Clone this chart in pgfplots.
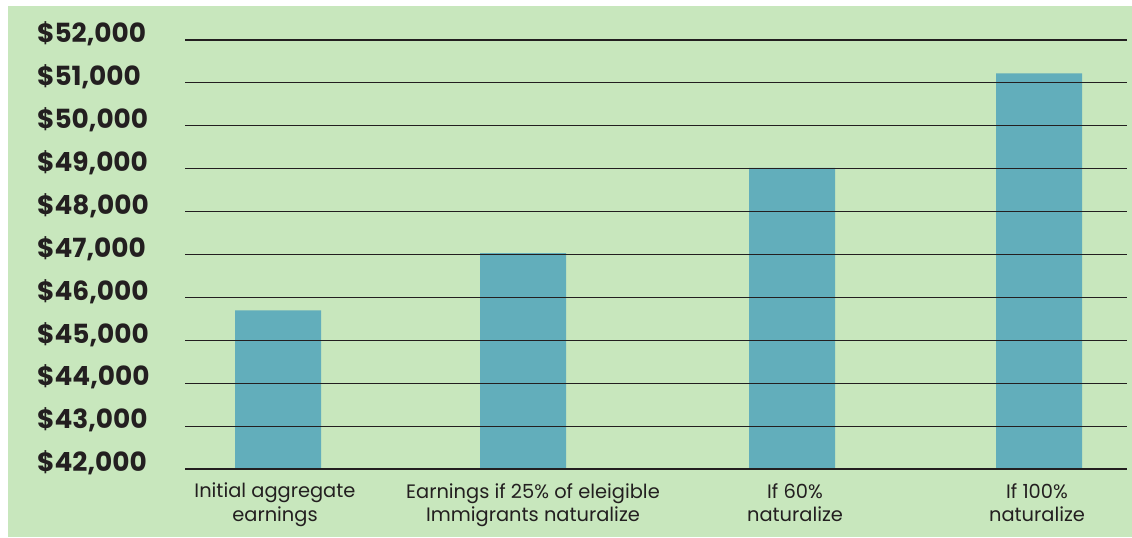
\documentclass[border=0pt]{standalone}
\usepackage{pgfplots}
\pgfplotsset{compat=1.18}
\usepackage{fontspec}
\setmainfont{Poppins}
\definecolor{bg}{HTML}{C8E7BD}
\definecolor{barc}{HTML}{62AEBB}
\definecolor{txt}{HTML}{231F20}
\begin{document}
\begin{tikzpicture}[x=1bp,y=1bp]
\useasboundingbox (0,0) rectangle (1132,538);
\fill[bg] (8,1) rectangle (1132,532);
\begin{axis}[
  at={(185bp,69bp)}, anchor=south west,
  scale only axis, width=942bp, height=429bp,
  xmin=185, xmax=1127, ymin=42000, ymax=52000,
  scaled y ticks=false,
  ybar, bar width=86,
  ytick={42000,43000,...,52000},
  yticklabels={{\$42,000},{\$43,000},{\$44,000},{\$45,000},{\$46,000},{\$47,000},{\$48,000},{\$49,000},{\$50,000},{\$51,000},{\$52,000}},
  xtick={275,533,795,1037},
  xticklabels={{Initial aggregate\\earnings},{Earnings if 25\% of eleigible\\Immigrants naturalize},{If 60\%\\naturalize},{If 100\%\\naturalize}},
  yticklabel style={anchor=west, inner sep=0pt, xshift=-148bp, yshift=6bp, font=\bfseries\fontsize{26.5}{26.5}\selectfont, text=txt},
  xticklabel style={align=center, anchor=north, inner sep=0pt, yshift=-14bp, font=\fontsize{19.5}{24}\selectfont, text=txt},
  axis on top,
  ymajorgrids,
  grid style={draw=txt, line width=1.1bp},
  axis line style={draw=none},
  major tick length=0pt,
  tick style={draw=none},
]
\addplot[fill=barc, draw=none] coordinates {(278,45700) (523,47030) (792,49020) (1039,51220)};
\end{axis}
\end{tikzpicture}
\end{document}
